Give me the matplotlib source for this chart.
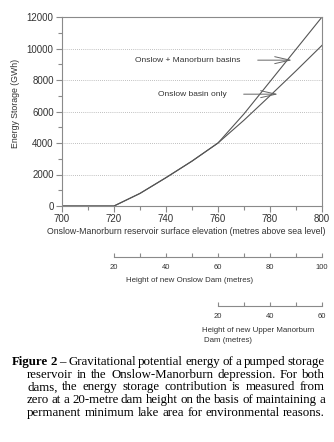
import matplotlib
matplotlib.use('Agg')
import matplotlib.pyplot as plt
from matplotlib.ticker import MultipleLocator

# data
elevation = [700, 710, 720, 730, 740, 750, 760, 770, 780, 790, 800]
onslow_only = [0, 0, 0, 800, 1800, 2850, 4000, 5450, 7000, 8580, 10200]
onslow_manorburn = [0, 0, 0, 800, 1800, 2850, 4000, 5850, 7900, 9950, 12000]

onslow_dam_ticks = [20, 40, 60, 80, 100]
manorburn_dam_ticks = [20, 40, 60]

caption_lines = [
    [('Figure', 'bold'), ('2', 'bold'), ('–', 'normal'), ('Gravitational', 'normal'),
     ('potential', 'normal'), ('energy', 'normal'), ('of', 'normal'), ('a', 'normal'),
     ('pumped', 'normal'), ('storage', 'normal')],
    'reservoir in the Onslow-Manorburn depression. For both',
    'dams, the energy storage contribution is measured from',
    'zero at a 20-metre dam height on the basis of maintaining a',
    'permanent minimum lake area for environmental reasons.',
]

W, H = 334, 442
LINE = '#555555'
SPINE = '#8a8a8a'
TXT = '#333333'
SANS = ['Liberation Sans', 'DejaVu Sans']
SERIF = ['Liberation Serif', 'DejaVu Serif']

plt.rcParams['font.family'] = SANS


def px(x, y):
    return x / W, 1 - y / H


def style_axis(ax, size):
    ax.tick_params(axis='both', which='both', direction='out', colors=SPINE,
                   labelcolor=TXT, labelsize=size, width=0.8)
    ax.tick_params(which='major', length=4, pad=2)
    ax.tick_params(which='minor', length=3)


fig = plt.figure(figsize=(W / 100, H / 100), dpi=100)

ax_l, ax_r, ax_t, ax_b = 62, 322, 17, 206
ax = fig.add_axes([ax_l / W, 1 - ax_b / H, (ax_r - ax_l) / W, (ax_b - ax_t) / H])
ax.plot(elevation, onslow_manorburn, color=LINE, lw=0.8)
ax.plot(elevation, onslow_only, color=LINE, lw=0.8)
ax.set_xlim(700, 800)
ax.set_ylim(0, 12000)
ax.xaxis.set_major_locator(MultipleLocator(20))
ax.xaxis.set_minor_locator(MultipleLocator(10))
ax.yaxis.set_major_locator(MultipleLocator(2000))
ax.yaxis.set_minor_locator(MultipleLocator(1000))
ax.grid(axis='y', which='major', linestyle=(0, (1, 1.5)), color='#aaaaaa', lw=0.6)
for s in ax.spines.values():
    s.set_color(SPINE)
    s.set_linewidth(0.8)
style_axis(ax, 7)

ax.annotate('', xy=(789.6, 9260), xytext=(774.2, 9260),
            arrowprops=dict(arrowstyle='->,head_length=1.1,head_width=0.25', color='#666666', lw=0.7))
ax.text(768.5, 9260, 'Onslow + Manorburn basins', ha='right', va='center', fontsize=6, color=TXT)
ax.annotate('', xy=(784.2, 7100), xytext=(768.8, 7100),
            arrowprops=dict(arrowstyle='->,head_length=1.1,head_width=0.25', color='#666666', lw=0.7))
ax.text(763.5, 7100, 'Onslow basin only', ha='right', va='center', fontsize=6, color=TXT)

fig.text(*px(16, 103), 'Energy Storage (GWh)', rotation=90, ha='center', va='center',
         fontsize=6.3, color=TXT)
fig.text(*px(186, 232), 'Onslow-Manorburn reservoir surface elevation (metres above sea level)',
         ha='center', va='center', fontsize=6.3, color=TXT)


def dam_axis(ticks, elev_offset, y_px):
    x0 = ax_l + (ticks[0] + elev_offset - 700) * 2.6
    x1 = ax_l + (ticks[-1] + elev_offset - 700) * 2.6
    a = fig.add_axes([x0 / W, 1 - y_px / H, (x1 - x0) / W, 0.001])
    a.set_xlim(ticks[0], ticks[-1])
    a.set_xticks(ticks)
    a.xaxis.set_minor_locator(MultipleLocator(10))
    a.set_yticks([])
    a.patch.set_visible(False)
    for k in ('left', 'right', 'top'):
        a.spines[k].set_visible(False)
    a.spines['bottom'].set_color(SPINE)
    a.spines['bottom'].set_linewidth(0.8)
    a.tick_params(axis='x', which='both', direction='in', colors=SPINE,
                  labelcolor=TXT, labelsize=5.5, width=0.8)
    a.tick_params(axis='x', which='major', length=3, pad=5)
    a.tick_params(axis='x', which='minor', length=3)
    return a


dam_axis(onslow_dam_ticks, 700, 257)
dam_axis(manorburn_dam_ticks, 740, 306)

fig.text(*px(126, 281), 'Height of new Onslow Dam (metres)', ha='left', va='center',
         fontsize=5.7, color=TXT)
fig.text(*px(202, 330), 'Height of new Upper Manorburn', ha='left', va='center',
         fontsize=5.7, color=TXT)
fig.text(*px(204, 341), 'Dam (metres)', ha='left', va='center', fontsize=5.7, color=TXT)

# justified caption, drawn word by word
renderer = fig.canvas.get_renderer()
cap_size = 9.3
right = 325
for i, line in enumerate(caption_lines):
    if isinstance(line, str):
        line = [(w, 'normal') for w in line.split()]
    left = 12 if i == 0 else 27
    y = 362 + i * 12.7
    texts = []
    for word, weight in line:
        t = fig.text(0, 0, word, fontsize=cap_size, fontweight=weight, family=SERIF,
                     color='black', ha='left', va='center')
        texts.append(t)
    widths = [t.get_window_extent(renderer).width for t in texts]
    gap = (right - left - sum(widths)) / (len(texts) - 1)
    x = left
    for t, w in zip(texts, widths):
        t.set_position(px(x, y))
        x += w + gap

fig.savefig('out.png', dpi=100)
